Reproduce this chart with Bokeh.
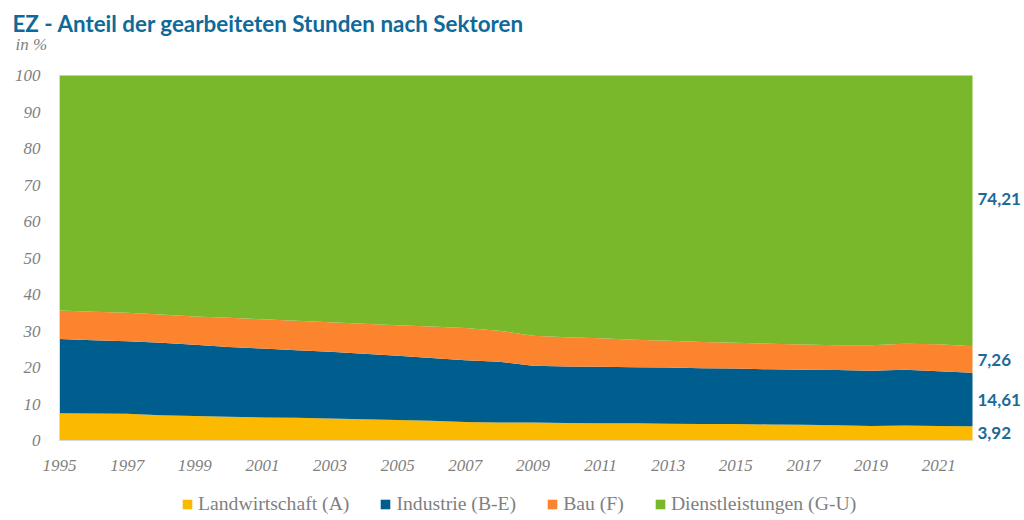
from bokeh.plotting import figure
from bokeh.models import (ColumnDataSource, Legend, Range1d, Label, LabelSet)
from bokeh.core.properties import value
from bokeh.embed import file_html
from bokeh.resources import INLINE

years = list(range(1995, 2023))
landwirtschaft = [7.5, 7.4, 7.3, 6.9, 6.7, 6.5, 6.3, 6.2, 6.0, 5.8, 5.6, 5.4, 5.1, 4.9,
                  4.9, 4.8, 4.7, 4.7, 4.6, 4.5, 4.5, 4.4, 4.3, 4.2, 4.0, 4.1, 4.0, 3.92]
industrie = [20.3, 20.1, 19.9, 19.9, 19.5, 19.1, 18.9, 18.5, 18.3, 18.0, 17.6, 17.2, 16.9, 16.7,
             15.6, 15.5, 15.5, 15.4, 15.4, 15.3, 15.2, 15.1, 15.1, 15.1, 15.1, 15.3, 15.0, 14.61]
bau = [7.8, 7.8, 7.8, 7.7, 7.8, 8.0, 8.0, 8.1, 8.1, 8.2, 8.4, 8.6, 8.8, 8.5,
       8.2, 8.0, 7.8, 7.5, 7.3, 7.2, 7.1, 7.0, 6.9, 6.8, 7.0, 7.1, 7.4, 7.26]
dienstleistungen = [64.4, 64.7, 65.0, 65.5, 66.0, 66.4, 66.8, 67.2, 67.6, 68.0, 68.4, 68.8, 69.2, 69.9,
                    71.3, 71.7, 72.0, 72.4, 72.7, 73.0, 73.2, 73.5, 73.7, 73.9, 73.9, 73.5, 73.6, 74.21]

series_names = ["Landwirtschaft (A)", "Industrie (B-E)", "Bau (F)", "Dienstleistungen (G-U)"]
colors = ["#FBB900", "#005E8E", "#FD842E", "#78B82A"]
tick_years = list(range(1995, 2022, 2))
y_ticks = list(range(0, 101, 10))

title_text = "EZ - Anteil der gearbeiteten Stunden nach Sektoren"
unit_text = "in %"

GRAY = "#7F7F7F"
BLUE_TXT = "#1B6A98"

src = ColumnDataSource(dict(year=years, agri=landwirtschaft, ind=industrie,
                            bau=bau, dienst=dienstleistungen))

# frame covers the whole canvas; ranges padded so the plot area sits at x 59..972, y 75..440
px_per_year = 913 / 27
px_per_pct = 365 / 100
p = figure(width=1024, height=520, output_backend="svg", toolbar_location=None,
           x_axis_location=None, y_axis_location=None,
           x_range=Range1d(years[0] - 59 / px_per_year, years[-1] + 52 / px_per_year),
           y_range=Range1d(-80 / px_per_pct, 100 + 75 / px_per_pct),
           min_border=0)
p.outline_line_color = None
p.xgrid.visible = False
p.ygrid.visible = False

rs = p.varea_stack(["agri", "ind", "bau", "dienst"], x="year", color=colors, source=src)

# axis lines
p.segment(x0=[years[0]], y0=[y_ticks[0]], x1=[years[-1]], y1=[y_ticks[0]], line_color="#D9D9D9", line_width=1)
p.segment(x0=[years[0]], y0=[y_ticks[0]], x1=[years[0]], y1=[y_ticks[-1]], line_color="#D9D9D9", line_width=1)

# y tick labels
ysrc = ColumnDataSource(dict(x=[years[0]] * len(y_ticks), y=y_ticks, t=[str(v) for v in y_ticks]))
p.add_layout(LabelSet(x="x", y="y", text="t", source=ysrc, x_offset=-19,
                      text_align="right", text_baseline="middle",
                      text_font=value("Liberation Serif"), text_font_style="italic",
                      text_font_size="17px", text_color=GRAY))

# x tick labels
xsrc = ColumnDataSource(dict(x=tick_years, y=[y_ticks[0]] * len(tick_years), t=[str(v) for v in tick_years]))
p.add_layout(LabelSet(x="x", y="y", text="t", source=xsrc, y_offset=-25,
                      text_align="center", text_baseline="middle",
                      text_font=value("Liberation Serif"), text_font_style="italic",
                      text_font_size="17px", text_color=GRAY))

# end-value labels at band midpoints of the last year
last_vals = [landwirtschaft[-1], industrie[-1], bau[-1], dienstleistungen[-1]]
lift = [0, 0, 0, 3.4]
pos = []
acc = 0.0
for v, l in zip(last_vals, lift):
    pos.append(acc + v / 2 + l)
    acc += v
esrc = ColumnDataSource(dict(x=[years[-1]] * 4, y=pos,
                             t=[f"{v:.2f}".replace(".", ",") for v in last_vals]))
p.add_layout(LabelSet(x="x", y="y", text="t", source=esrc, x_offset=5,
                      text_align="left", text_baseline="middle",
                      text_font=value("Lato"), text_font_style="bold",
                      text_font_size="17px", text_color=BLUE_TXT))

# titles
p.add_layout(Label(x=years[0], y=y_ticks[-1], x_offset=-47, y_offset=52, text=title_text,
                   text_font="Lato", text_font_style="bold", text_font_size="22.4px",
                   text_color="#0F6A99", text_baseline="alphabetic"))
p.add_layout(Label(x=years[0], y=y_ticks[-1], x_offset=-44, y_offset=31, text=unit_text,
                   text_font="Liberation Serif", text_font_style="italic", text_font_size="17px",
                   text_color=GRAY, text_baseline="alphabetic"))

# legend
legend = Legend(items=[(n, [r]) for n, r in zip(series_names, rs)],
                orientation="horizontal", location=(181, 5),
                padding=0, margin=0, spacing=30, label_standoff=5,
                glyph_width=12, glyph_height=12,
                border_line_color=None, background_fill_alpha=0,
                label_text_font="Liberation Serif", label_text_font_size="19.7px",
                label_text_color=GRAY)
p.add_layout(legend, "center")

open("out.html", "w").write(file_html(p, INLINE))
